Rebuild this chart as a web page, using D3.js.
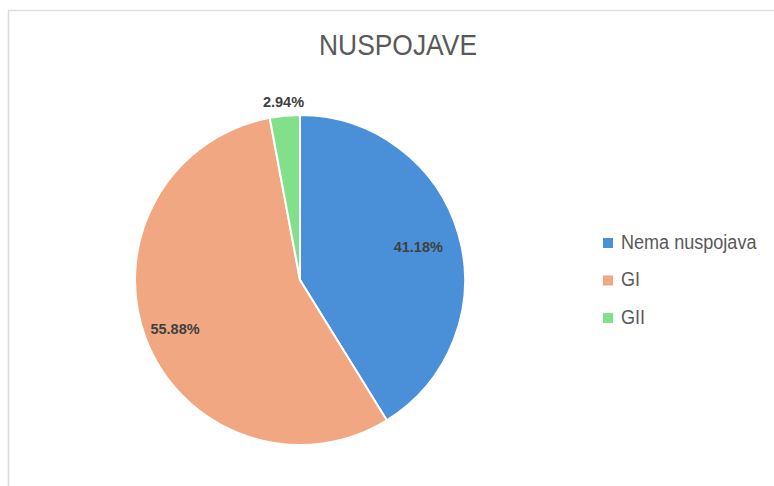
<!DOCTYPE html>
<html>
<head>
<meta charset="utf-8">
<script src="https://cdn.jsdelivr.net/npm/d3@7/dist/d3.min.js"></script>
<style>
  html, body { margin: 0; padding: 0; background: #fff; }
  svg { display: block; font-family: "Liberation Sans", Arial, sans-serif; }
</style>
</head>
<body>
<svg id="chart" width="774" height="486"></svg>
<script>
// ---- data ----
const title = "NUSPOJAVE";
const categories = ["Nema nuspojava", "GI", "GII"];
const values = [41.18, 55.88, 2.94];
const labels = ["41.18%", "55.88%", "2.94%"];
const colors = ["#4a90d9", "#f1a882", "#82e08b"];

// ---- layout ----
const svg = d3.select("#chart");
const W = 774, H = 486;
const cx = 300, cy = 280, r = 165;
const labelRadius = [123, 134, 179];

// chart border
svg.append("rect")
  .attr("x", 8.5).attr("y", 10.5)
  .attr("width", W + 20).attr("height", H + 20)
  .attr("fill", "#fff")
  .attr("stroke", "#dcdcdc")
  .attr("stroke-width", 1.5);

// title
svg.append("text")
  .attr("x", 398).attr("y", 55)
  .attr("text-anchor", "middle")
  .attr("font-size", 30)
  .attr("fill", "#595959")
  .attr("textLength", 158)
  .attr("lengthAdjust", "spacingAndGlyphs")
  .text(title);

const data = categories.map((c, i) => ({ cat: c, value: values[i], label: labels[i], color: colors[i], i }));

const pie = d3.pie().value(d => d.value).sort(null);
const arcs = pie(data);
const arc = d3.arc().innerRadius(0).outerRadius(r);

const g = svg.append("g").attr("transform", `translate(${cx},${cy})`);

g.selectAll("path.slice")
  .data(arcs)
  .enter().append("path")
  .attr("class", "slice")
  .attr("d", arc)
  .attr("fill", d => d.data.color)
  .attr("stroke", "#fff")
  .attr("stroke-width", 2)
  .attr("stroke-linejoin", "round");

g.selectAll("text.lbl")
  .data(arcs)
  .enter().append("text")
  .attr("class", "lbl")
  .attr("transform", d => {
    const a = (d.startAngle + d.endAngle) / 2;
    const R = labelRadius[d.data.i];
    return `translate(${R * Math.sin(a)},${-R * Math.cos(a)})`;
  })
  .attr("text-anchor", "middle")
  .attr("dy", "0.36em")
  .attr("font-size", 14.5)
  .attr("font-weight", "bold")
  .attr("fill", "#404040")
  .text(d => d.data.label);

// legend
const legend = svg.append("g").attr("transform", "translate(603,238)");
const step = 37.5;
const items = legend.selectAll("g.item")
  .data(data)
  .enter().append("g")
  .attr("class", "item")
  .attr("transform", (d, i) => `translate(0,${i * step})`);

items.append("rect")
  .attr("width", 10).attr("height", 10)
  .attr("fill", d => d.color);

items.append("text")
  .attr("transform", "translate(18,10.5) scale(0.86,1)")
  .attr("font-size", 21)
  .attr("fill", "#595959")
  .text(d => d.cat);
</script>
</body>
</html>
